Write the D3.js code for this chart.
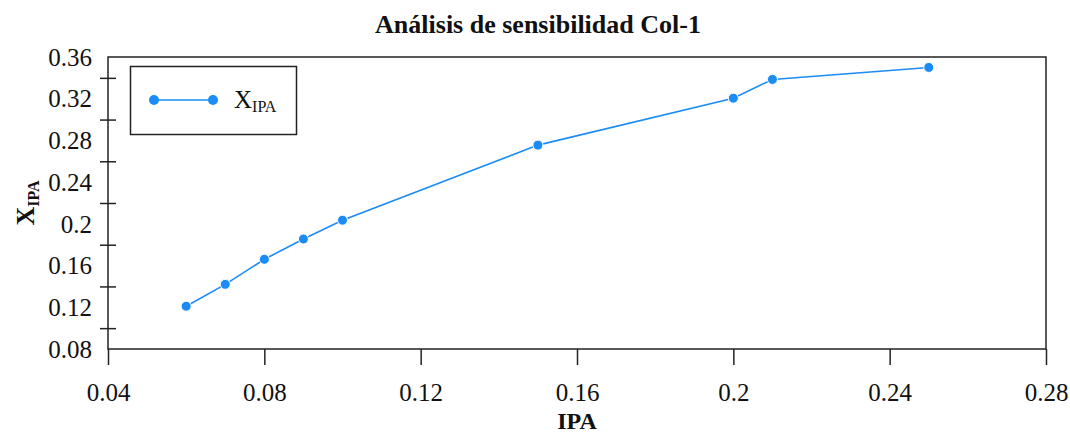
<!DOCTYPE html>
<html>
<head>
<meta charset="utf-8">
<script src="https://cdn.jsdelivr.net/npm/d3@7"></script>
<style>
    body { margin: 0; background: #fff; }
    svg text { font-family: "Liberation Serif", "Times New Roman", serif; fill: #111; }
</style>
</head>
<body>
<svg id="chart"></svg>
<script>
// data
var ipa = [0.06, 0.07, 0.08, 0.09, 0.10, 0.15, 0.20, 0.21, 0.25];
var xIpa = [0.121, 0.142, 0.166, 0.1855, 0.2035, 0.2755, 0.3205, 0.3385, 0.350];
var xTicks = [0.04, 0.08, 0.12, 0.16, 0.20, 0.24, 0.28];
var xTickLabels = ["0.04", "0.08", "0.12", "0.16", "0.2", "0.24", "0.28"];
var yTicks = [0.08, 0.12, 0.16, 0.20, 0.24, 0.28, 0.32, 0.36];
var yTickLabels = ["0.08", "0.12", "0.16", "0.2", "0.24", "0.28", "0.32", "0.36"];
var yMarks = [0.10, 0.14, 0.18, 0.22, 0.26, 0.30, 0.34];

var width = 1070, height = 435;
var margin = { top: 57, right: 24, bottom: 86, left: 108 };
var color = "#1b8cf5";

var svg = d3.select("svg#chart")
    .attr("width", width)
    .attr("height", height);

var x = d3.scaleLinear().domain([0.04, 0.28]).range([margin.left, width - margin.right]);
var y = d3.scaleLinear().domain([0.08, 0.36]).range([height - margin.bottom, margin.top]);

// frame
svg.append("rect")
    .attr("x", x(0.04))
    .attr("y", y(0.36))
    .attr("width", x(0.28) - x(0.04))
    .attr("height", y(0.08) - y(0.36))
    .attr("fill", "none")
    .attr("stroke", "#222")
    .attr("stroke-width", 1.5);

// x axis
var xAxis = svg.append("g")
    .attr("transform", "translate(0," + y(0.08) + ")")
    .call(d3.axisBottom(x).tickValues(xTicks).tickSizeInner(16).tickSizeOuter(0)
        .tickFormat(function (d, i) { return xTickLabels[i]; }));
xAxis.select(".domain").remove();
xAxis.selectAll("line").attr("stroke", "#222").attr("stroke-width", 1.5);
xAxis.selectAll("text")
    .style("font-size", "25px")
    .attr("y", 52)
    .attr("dy", "0");

// y axis labels
var yAxis = svg.append("g")
    .attr("transform", "translate(" + x(0.04) + ",0)")
    .call(d3.axisLeft(y).tickValues(yTicks).tickSize(0)
        .tickFormat(function (d, i) { return yTickLabels[i]; }));
yAxis.select(".domain").remove();
yAxis.selectAll("line").remove();
yAxis.selectAll("text")
    .style("font-size", "25px")
    .attr("x", -16)
    .attr("dy", "0.33em");

// y crossing ticks between the labels
var yTickMarks = svg.append("g")
    .attr("transform", "translate(" + x(0.04) + ",0)")
    .call(d3.axisLeft(y).tickValues(yMarks).tickSize(8).tickFormat(""));
yTickMarks.select(".domain").remove();
yTickMarks.selectAll("line")
    .attr("x1", 8)
    .attr("x2", -8)
    .attr("stroke", "#222")
    .attr("stroke-width", 1.5);

// line + points
var points = ipa.map(function (d, i) { return [d, xIpa[i]]; });
var line = d3.line()
    .x(function (d) { return x(d[0]); })
    .y(function (d) { return y(d[1]); });

svg.append("path")
    .datum(points)
    .attr("d", line)
    .attr("fill", "none")
    .attr("stroke", color)
    .attr("stroke-width", 1.6);

svg.selectAll("circle.pt")
    .data(points)
    .enter()
    .append("circle")
    .attr("class", "pt")
    .attr("cx", function (d) { return x(d[0]); })
    .attr("cy", function (d) { return y(d[1]); })
    .attr("r", 5)
    .attr("fill", color)
    .attr("stroke", "#fff")
    .attr("stroke-width", 1);

// title
svg.append("text")
    .attr("x", 538)
    .attr("y", 33)
    .attr("text-anchor", "middle")
    .style("font-size", "26px")
    .attr("font-weight", "bold")
    .text("Análisis de sensibilidad Col-1");

// x label
svg.append("text")
    .attr("x", x(0.16))
    .attr("y", 429)
    .attr("text-anchor", "middle")
    .style("font-size", "24px")
    .attr("font-weight", "bold")
    .text("IPA");

// y label
var yLabel = svg.append("text")
    .attr("transform", "translate(34," + ((y(0.08) + y(0.36)) / 2) + ") rotate(-90)")
    .attr("text-anchor", "middle")
    .style("font-size", "26px")
    .attr("font-weight", "bold");
yLabel.append("tspan").text("X");
yLabel.append("tspan").style("font-size", "16px").attr("dy", 5).text("IPA");

// legend
var legend = svg.append("g").attr("class", "legend");
legend.append("rect")
    .attr("x", 130.5)
    .attr("y", 66.5)
    .attr("width", 166)
    .attr("height", 68)
    .attr("fill", "#fff")
    .attr("stroke", "#222")
    .attr("stroke-width", 1.5);
legend.append("line")
    .attr("x1", 154).attr("x2", 213)
    .attr("y1", 100).attr("y2", 100)
    .attr("stroke", color)
    .attr("stroke-width", 1.6);
legend.selectAll("circle")
    .data([154, 213])
    .enter()
    .append("circle")
    .attr("cx", function (d) { return d; })
    .attr("cy", 100)
    .attr("r", 5)
    .attr("fill", color);
var legendText = legend.append("text")
    .attr("x", 234)
    .attr("y", 108)
    .style("font-size", "25px");
legendText.append("tspan").text("X");
legendText.append("tspan").style("font-size", "16px").attr("dy", 4).text("IPA");
</script>
</body>
</html>
